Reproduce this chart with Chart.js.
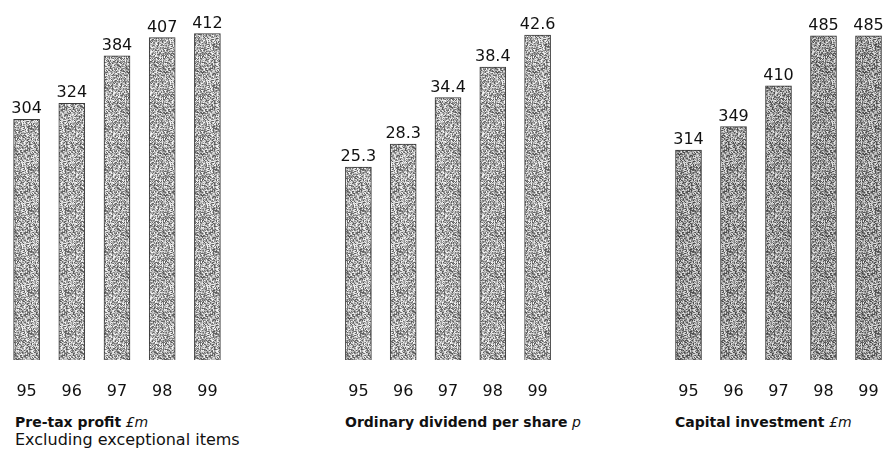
<!DOCTYPE html>
<html>
<head>
<meta charset="utf-8">
<script src="https://cdn.jsdelivr.net/npm/chart.js@4.4.0/dist/chart.umd.min.js"></script>
<style>
  html, body { margin: 0; padding: 0; background: #fff; overflow: hidden; width: 884px; height: 453px; }
  .box { position: absolute; top: 0; height: 402px; }
  .title { position: absolute; top: 414px; font-family: "DejaVu Sans", sans-serif; font-size: 14px; line-height: 17px; color: #111; white-space: nowrap; }
  .title i { font-style: italic; font-weight: normal; }
  .title span { font-size: 16px; }
</style>
</head>
<body>
<div class="box" style="left:4px;width:226px"><canvas id="c1"></canvas></div>
<div class="box" style="left:336px;width:224px"><canvas id="c2"></canvas></div>
<div class="box" style="left:666px;width:225px"><canvas id="c3"></canvas></div>

<div class="title" style="left:15px"><b>Pre-tax profit</b> <i>£m</i><br><span>Excluding exceptional items</span></div>
<div class="title" style="left:345px"><b>Ordinary dividend per share</b> <i>p</i></div>
<div class="title" style="left:675px"><b>Capital investment</b> <i>£m</i></div>

<script>
const years = ['95', '96', '97', '98', '99'];
const pretaxProfit = [304, 324, 384, 407, 412];
const dividendPerShare = [25.3, 28.3, 34.4, 38.4, 42.6];
const capitalInvestment = [314, 349, 410, 485, 485];

// grainy grey fill like the printed bars (fixed noise, not data)
function makeGrain(base, spread) {
  const c = document.createElement('canvas');
  c.width = 37; c.height = 41;
  const g = c.getContext('2d');
  const img = g.createImageData(37, 41);
  for (let i = 0; i < 37 * 41; i++) {
    const h = Math.sin(i * 12.9898 + 78.233) * 43758.5453;
    const f = h - Math.floor(h);
    const v = Math.max(0, Math.min(255, Math.round(base + (f - 0.5) * spread)));
    img.data[i * 4] = v;
    img.data[i * 4 + 1] = v;
    img.data[i * 4 + 2] = v;
    img.data[i * 4 + 3] = 255;
  }
  g.putImageData(img, 0, 0);
  return g.createPattern(c, 'repeat');
}

const valueLabels = {
  id: 'valueLabels',
  afterDatasetsDraw(chart, args, opts) {
    const ctx = chart.ctx;
    const ds = chart.data.datasets[0];
    ctx.save();
    ctx.font = '16px "DejaVu Sans", sans-serif';
    ctx.fillStyle = '#111';
    ctx.textAlign = 'center';
    ctx.textBaseline = 'alphabetic';
    chart.getDatasetMeta(0).data.forEach((bar, i) => {
      ctx.fillText(ds.data[i].toFixed(opts.decimals || 0), bar.x, bar.y - 6);
    });
    ctx.restore();
  }
};

function barChart(id, values, yMax, decimals, grain) {
  return new Chart(document.getElementById(id), {
    type: 'bar',
    data: {
      labels: years,
      datasets: [{
        data: values,
        backgroundColor: grain,
        borderColor: '#3a3a3a',
        borderWidth: 1,
        barThickness: 26
      }]
    },
    options: {
      responsive: true,
      maintainAspectRatio: false,
      animation: false,
      layout: { padding: 0 },
      plugins: {
        legend: { display: false },
        tooltip: { enabled: false },
        valueLabels: { decimals: decimals }
      },
      scales: {
        x: {
          grid: { display: false, drawTicks: false },
          border: { display: false },
          ticks: { color: '#111', padding: 22, font: { family: '"DejaVu Sans", sans-serif', size: 16 } },
          // keep the tick gap from squeezing the bars sideways
          afterFit(scale) {
            scale.height = 42;
            scale.paddingLeft = 0;
            scale.paddingRight = 0;
          }
        },
        y: { display: false, min: 0, max: yMax }
      }
    },
    plugins: [valueLabels]
  });
}

barChart('c1', pretaxProfit, 454.5, 0, makeGrain(168, 170));
barChart('c2', dividendPerShare, 47.2, 1, makeGrain(168, 170));
barChart('c3', capitalInvestment, 538.5, 0, makeGrain(150, 170));
</script>
</body>
</html>
